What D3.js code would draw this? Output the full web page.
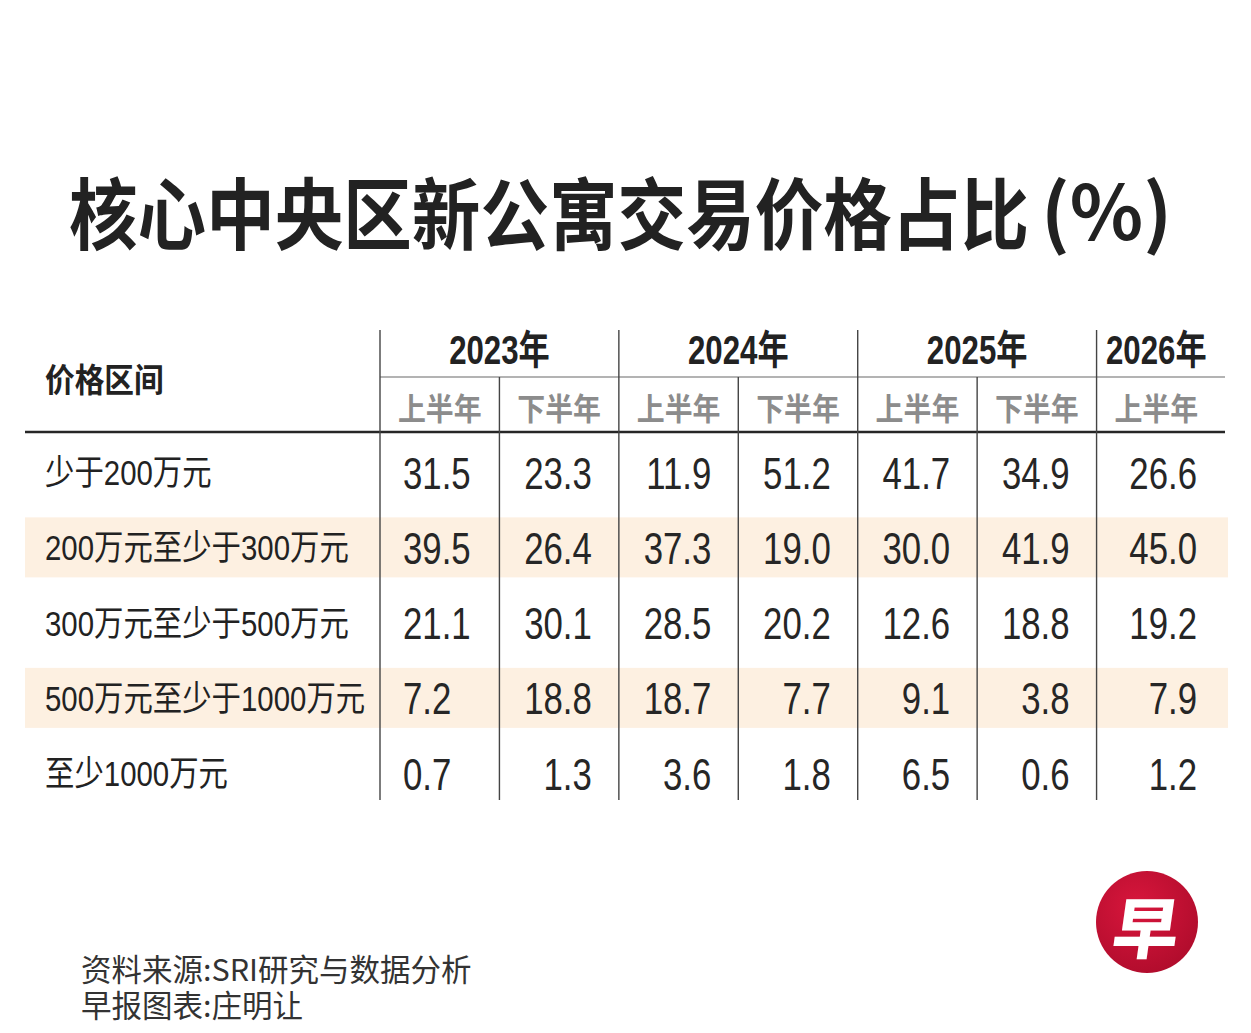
<!DOCTYPE html>
<html>
<head>
<meta charset="utf-8">
<script src="https://cdn.jsdelivr.net/npm/d3@7/dist/d3.min.js"></script>
<style>
  html, body { margin: 0; padding: 0; background: #ffffff; }
  svg { display: block; }
</style>
</head>
<body>
<script>
// ---------- data ----------
const titleMain = "核心中央区新公寓交易价格占比";
const titleUnit = "(%)";
const headerLabel = "价格区间";
const years = ["2023年", "2024年", "2025年", "2026年"];
const yearSpans = [2, 2, 2, 1];
const halves = ["上半年", "下半年", "上半年", "下半年", "上半年", "下半年", "上半年"];
const categories = ["少于200万元", "200万元至少于300万元", "300万元至少于500万元", "500万元至少于1000万元", "至少1000万元"];
const h1_2023 = [31.5, 39.5, 21.1, 7.2, 0.7];
const h2_2023 = [23.3, 26.4, 30.1, 18.8, 1.3];
const h1_2024 = [11.9, 37.3, 28.5, 18.7, 3.6];
const h2_2024 = [51.2, 19.0, 20.2, 7.7, 1.8];
const h1_2025 = [41.7, 30.0, 12.6, 9.1, 6.5];
const h2_2025 = [34.9, 41.9, 18.8, 3.8, 0.6];
const h1_2026 = [26.6, 45.0, 19.2, 7.9, 1.2];
const columns = [h1_2023, h2_2023, h1_2024, h2_2024, h1_2025, h2_2025, h1_2026];
const highlightRows = [1, 3];
const sourceLines = ["资料来源:SRI研究与数据分析", "早报图表:庄明让"];
const logoChar = "早";

// ---------- layout ----------
const W = 1251, H = 1033;
const svg = d3.select("body").append("svg").attr("width", W).attr("height", H);
svg.append("rect").attr("width", W).attr("height", H).attr("fill", "#ffffff");

const CJK = "'Noto Sans CJK SC', 'Noto Sans', sans-serif";
const NUM = "'Liberation Sans', 'Noto Sans CJK SC', Arial, sans-serif";
const ink = "#222222";

const tableLeft = 25, tableRight = 1225;
const x = d3.scaleBand().domain(d3.range(columns.length)).range([380, 1216]);
const y = d3.scaleBand().domain(d3.range(categories.length)).range([434.5, 810.75]);
const bw = x.bandwidth();
const rowC = i => y(i) + y.bandwidth() / 2;

// title (one text, two spans)
const t = svg.append("text")
  .attr("font-family", CJK).attr("font-weight", 700).attr("font-size", 78)
  .attr("fill", ink);
t.append("tspan").attr("x", 69).attr("y", 244)
  .attr("textLength", 960).attr("lengthAdjust", "spacingAndGlyphs")
  .text(titleMain);
t.append("tspan").attr("x", 1041).attr("y", 240).attr("font-size", 76)
  .attr("textLength", 131).attr("lengthAdjust", "spacingAndGlyphs")
  .text(titleUnit);

// highlight bands
svg.append("g").selectAll("rect").data(highlightRows).join("rect")
  .attr("x", tableLeft).attr("width", tableRight - tableLeft + 3)
  .attr("y", d => rowC(d) - 30).attr("height", 60)
  .attr("fill", "#fdf0e1");

// helper: condensed text
function ctext(g, px, py, str, opts) {
  const sx = opts.sx || 1;
  return g.append("text")
    .attr("transform", `translate(${px},${py}) scale(${sx},1)`)
    .attr("text-anchor", opts.anchor || "start")
    .attr("dominant-baseline", "central")
    .attr("font-family", opts.family || NUM)
    .attr("font-weight", opts.weight || 400)
    .attr("font-size", opts.size)
    .attr("fill", opts.fill || ink)
    .text(str);
}

const g = svg.append("g");

// header label
ctext(g, 45, 378, headerLabel, { family: CJK, weight: 700, size: 33, sx: 0.9 });

// year headers
let start = 0;
years.forEach((yr, k) => {
  const span = yearSpans[k];
  const cx = (x(start) + x(start + span - 1) + bw) / 2;
  ctext(g, cx, 351, yr, { anchor: "middle", weight: 700, size: 40, sx: 0.78 });
  start += span;
});

// subheaders
halves.forEach((h, i) => {
  ctext(g, x(i) + bw / 2, 406, h, { anchor: "middle", family: CJK, weight: 700, size: 31, sx: 0.9, fill: "#8c8c8c" });
});

// lines
const lines = svg.append("g");
lines.append("line").attr("x1", x(0)).attr("x2", tableRight).attr("y1", 377).attr("y2", 377)
  .attr("stroke", "#9a9a9a").attr("stroke-width", 1.5);
lines.append("line").attr("x1", tableLeft).attr("x2", tableRight).attr("y1", 432).attr("y2", 432)
  .attr("stroke", "#262626").attr("stroke-width", 2.6);
const groupStarts = [];
let acc = 0; yearSpans.forEach(s => { groupStarts.push(acc); acc += s; });
lines.selectAll(".v").data(d3.range(columns.length)).join("line")
  .attr("x1", i => x(i)).attr("x2", i => x(i))
  .attr("y1", i => groupStarts.includes(i) ? 330 : 377)
  .attr("y2", 800)
  .attr("stroke", "#444").attr("stroke-width", 1.4);

// row labels
categories.forEach((c, r) => {
  ctext(g, 45, rowC(r) + 1, c, { family: NUM, size: 35, sx: 0.84 });
});

// numbers
columns.forEach((col, i) => {
  col.forEach((v, r) => {
    const left = i === 0;
    ctext(g, left ? x(i) + 23 : x(i) + bw - 27 + (i === columns.length - 1 ? 8 : 0), rowC(r) + 1,
      v.toFixed(1), { anchor: left ? "start" : "end", size: 44, sx: 0.79, fill: "#262626" });
  });
});

// source (one text, two lines)
const src = svg.append("text")
  .attr("font-family", CJK).attr("font-size", 30.5).attr("fill", "#333");
sourceLines.forEach((s, k) => {
  src.append("tspan").attr("x", 81).attr("y", 981 + k * 36).text(s);
});

// logo
const defs = svg.append("defs");
const grad = defs.append("radialGradient").attr("id", "lg").attr("cx", "40%").attr("cy", "35%").attr("r", "70%");
grad.append("stop").attr("offset", "0%").attr("stop-color", "#d8163c");
grad.append("stop").attr("offset", "100%").attr("stop-color", "#b00c2c");
const logo = svg.append("g").attr("transform", "translate(1147,922)");
logo.append("circle").attr("r", 51).attr("fill", "url(#lg)");
logo.append("text")
  .attr("transform", "skewX(-8)")
  .attr("text-anchor", "middle").attr("dominant-baseline", "central")
  .attr("y", 2)
  .attr("font-family", CJK).attr("font-weight", 900).attr("font-size", 66)
  .attr("fill", "#ffffff")
  .text(logoChar);
</script>
</body>
</html>
